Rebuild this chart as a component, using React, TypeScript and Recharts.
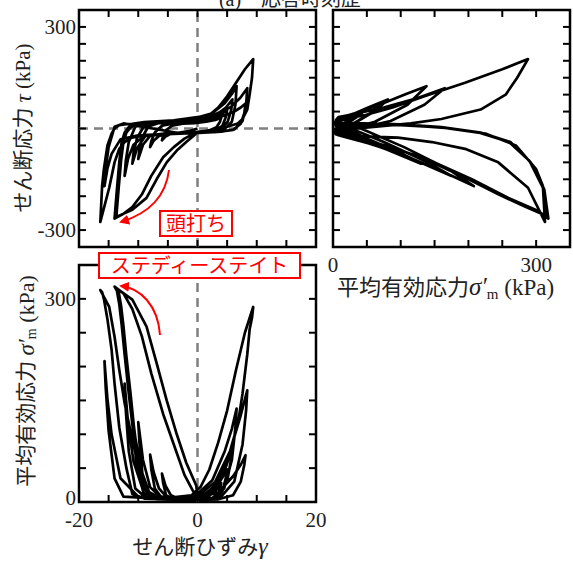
import { LineChart, Line, XAxis, YAxis, ReferenceLine, ReferenceArea } from "recharts";

// [せん断ひずみ γ (%), せん断応力 τ (kPa), 平均有効応力 σ'm (kPa)] — one half cycle per array
type Pt = [number, number, number];

const loop01: Pt[] = [[0, 0, 4], [-1.5, -8, 3], [-3, -12, 4], [-4.5, -16, 10], [-5.4, -24, 24], [-6, -35, 42], [-5.8, -22, 28], [-5.3, -5, 10], [-4.3, 8, 4], [-2.5, 14, 3]];
const loop02: Pt[] = [[-0.5, 16, 3], [1.5, 20, 6], [3, 25, 16], [4, 32, 28], [3.8, 20, 20], [3.2, 4, 8], [2, -6, 4], [0, -10, 3]];
const loop03: Pt[] = [[-2.5, -12, 3], [-5, -15, 5], [-6.5, -22, 20], [-7.4, -36, 44], [-8, -55, 70], [-7.8, -38, 48], [-7.2, -12, 20], [-6, 8, 6], [-4, 15, 3]];
const loop04: Pt[] = [[-1.5, 18, 3], [1, 24, 6], [3, 32, 20], [4.2, 44, 36], [5, 55, 48], [4.8, 35, 36], [4.2, 8, 16], [3, -5, 5], [0.5, -11, 3]];
const loop05: Pt[] = [[-3, -13, 3], [-6, -16, 5], [-8, -22, 22], [-9.2, -48, 62], [-10, -90, 118], [-9.8, -62, 88], [-9.3, -25, 42], [-8.3, 6, 10], [-6.5, 16, 4]];
const loop06: Pt[] = [[-2, 19, 4], [0.5, 26, 7], [3, 38, 24], [4.8, 62, 52], [5.9, 86, 81], [5.7, 55, 65], [5.1, 20, 35], [3.8, -3, 10], [1.5, -11, 3]];
const loop07: Pt[] = [[-2, -12, 3], [-6, -16, 4], [-8.8, -22, 18], [-10.2, -58, 75], [-11, -104, 130], [-10.8, -72, 100], [-10.2, -28, 48], [-9, 8, 10], [-7, 17, 4]];
const loop08: Pt[] = [[-3, 20, 4], [0, 26, 6], [3.5, 32, 14], [6, 48, 38], [7.3, 62, 55], [8.1, 74, 69], [7.9, 45, 55], [7.3, 14, 30], [6, -4, 10], [3.5, -10, 4]];
const loop09: Pt[] = [[0, -13, 3], [-5, -17, 4], [-9, -22, 12], [-10.8, -48, 60], [-11.7, -88, 115], [-12.3, -140, 175], [-12.1, -95, 135], [-11.6, -40, 75], [-10.5, 5, 20], [-8.5, 17, 5]];
const loop10: Pt[] = [[-4, 20, 4], [-0.5, 30, 8], [2.5, 45, 32], [4.6, 75, 75], [5.8, 102, 108], [6.6, 125, 138], [6.4, 70, 110], [5.8, 20, 62], [4.5, -3, 20], [2.5, -10, 6]];
const loop11: Pt[] = [[0, -12, 4], [-5, -16, 4], [-10, -20, 8], [-13, -32, 35], [-14.5, -75, 100], [-15.2, -118, 152], [-15.7, -170, 208], [-15.5, -120, 170], [-15, -55, 105], [-14, 5, 35], [-12.5, 15, 8]];
const loop13: Pt[] = [[-3, -14, 3], [-6, -16, 5], [-8.1, -20, 13], [-9.8, -23, 47], [-11.1, -27, 96], [-12.3, -40, 146], [-13.2, -60, 195], [-14, -100, 244], [-14.9, -175, 288], [-16.4, -276, 313], [-16.1, -170, 310], [-15.8, -120, 300], [-15.2, -50, 270], [-14.5, -15, 225], [-14, 0, 175], [-13.2, 10, 110], [-12, 13, 50], [-11, 14, 12]];
const loop12: Pt[] = [[-9, 19, 5], [-4, 24, 4], [0, 34, 8], [3, 42, 30], [5.5, 62, 75], [7.2, 90, 125], [8.4, 119, 165], [8.2, 70, 135], [7.6, 22, 85], [6.2, -3, 30], [4, -9, 8], [1, -12, 3]];
const loop16: Pt[] = [[-0.5, -14, 12], [-2.2, -30, 40], [-4, -55, 85], [-5.8, -85, 130], [-7.8, -140, 190], [-9.4, -195, 245], [-11, -232, 285], [-12.5, -252, 308], [-14, -266, 318], [-13.6, -180, 312], [-13.2, -100, 292], [-12.8, -40, 262], [-12.3, -12, 218], [-11.6, 4, 160], [-10.8, 12, 100], [-9.8, 15, 45], [-8.5, 16, 12]];
const loop14: Pt[] = [[-5, 18, 6], [-1, 24, 10], [0.5, 30, 22], [2, 40, 48], [3.5, 62, 88], [5, 95, 135], [6.5, 135, 195], [8, 175, 250], [9.4, 205, 288], [9.2, 150, 272], [8.8, 100, 255], [8.4, 56, 218], [7.6, 28, 160], [6.8, 15, 115], [5, 5, 60], [3, -2, 25], [1, -8, 8], [0, -10, 5]];
const loop15: Pt[] = [[-0.2, -15, 24], [-1.9, -40, 58], [-3.5, -65, 100], [-5.2, -100, 150], [-6.9, -150, 205], [-8.6, -205, 259], [-11, -240, 299], [-13.7, -261, 316], [-13.3, -175, 310], [-12.9, -95, 290], [-12.5, -40, 260], [-12, -12, 215], [-11.3, 3, 160], [-10.6, 10, 100], [-9.5, 14, 47], [-8.1, 15, 13]];

const loops = [loop01, loop02, loop03, loop04, loop05, loop06, loop07, loop08, loop09, loop10, loop11, loop13, loop12, loop16, loop14, loop15];
const path = loops.flat().map(([g, t, s]) => ({ g, t, s }));

const strainTicks = [-20, -15, -10, -5, 0, 5, 10, 15, 20];
const tauTicks = [-300, -250, -200, -150, -100, -50, 0, 50, 100, 150, 200, 250, 300];
const sigmaTicks = [0, 50, 100, 150, 200, 250, 300];

const W = 573;
const H = 562;
const AX_W = 40; // y axis band
const AX_H = 30; // x axis band
const FONT = "'Liberation Serif', 'Noto Sans CJK JP', serif";
const TEXT = "#222";

const fmt = (v: number) => (v < 0 ? "-" + -v : String(v));

// x-axis tick: inward marks on bottom and top frame, optional label
function xTick(top: number, bottom: number, labels: number[], labelY: number) {
  return (props: any) => {
    const x = props.payload?.coordinate ?? props.x;
    const v = props.payload?.value;
    return (
      <g>
        <line x1={x} x2={x} y1={bottom} y2={bottom - 7} stroke="#000" strokeWidth={2} />
        <line x1={x} x2={x} y1={top} y2={top + 7} stroke="#000" strokeWidth={2} />
        {labels.includes(v) && (
          <text x={x} y={labelY} textAnchor="middle" fontSize={21} fontFamily={FONT} fill={TEXT}>
            {fmt(v)}
          </text>
        )}
      </g>
    );
  };
}

function yTick(left: number, right: number, labels: number[]) {
  return (props: any) => {
    const y = props.payload?.coordinate ?? props.y;
    const v = props.payload?.value;
    return (
      <g>
        <line x1={left} x2={left + 7} y1={y} y2={y} stroke="#000" strokeWidth={2} />
        <line x1={right - 7} x2={right} y1={y} y2={y} stroke="#000" strokeWidth={2} />
        {labels.includes(v) && (
          <text x={left - 3} y={y + (v === 0 ? 3 : 7)} textAnchor="end" fontSize={21} fontFamily={FONT} fill={TEXT}>
            {fmt(v)}
          </text>
        )}
      </g>
    );
  };
}

type PanelProps = {
  box: { L: number; R: number; T: number; B: number };
  xKey: string;
  yKey: string;
  xDomain: [number, number];
  yDomain: [number, number];
  xTicks: number[];
  yTicks: number[];
  xLabels: number[];
  yLabels: number[];
  xLabelY: number;
  zeroX?: boolean;
  zeroY?: boolean;
};

function Panel({ box, xKey, yKey, xDomain, yDomain, xTicks, yTicks, xLabels, yLabels, xLabelY, zeroX, zeroY }: PanelProps) {
  const { L, R, T, B } = box;
  return (
    <div style={{ position: "absolute", left: 0, top: 0 }}>
      <LineChart
        width={W}
        height={H}
        data={path}
        margin={{ top: T, left: L - AX_W, right: W - R, bottom: H - B - AX_H }}
      >
        <XAxis
          type="number"
          dataKey={xKey}
          domain={xDomain}
          ticks={xTicks}
          interval={0}
          height={AX_H}
          axisLine={false}
          tickLine={false}
          allowDataOverflow
          tick={xTick(T, B, xLabels, xLabelY)}
        />
        <YAxis
          type="number"
          domain={yDomain}
          ticks={yTicks}
          interval={0}
          width={AX_W}
          axisLine={false}
          tickLine={false}
          allowDataOverflow
          tick={yTick(L, R, yLabels)}
        />
        {zeroX && <ReferenceLine x={0} stroke="#808080" strokeWidth={2.5} strokeDasharray="9 6" />}
        {zeroY && <ReferenceLine y={0} stroke="#808080" strokeWidth={2.5} strokeDasharray="9 6" />}
        <Line
          type="linear"
          dataKey={yKey}
          stroke="#000"
          strokeWidth={2.7}
          strokeLinejoin="round"
          dot={false}
          isAnimationActive={false}
        />
        <ReferenceArea x1={xDomain[0]} x2={xDomain[1]} y1={yDomain[0]} y2={yDomain[1]} fill="none" stroke="#000" strokeWidth={2.5} />
      </LineChart>
    </div>
  );
}

export default function App() {
  const red = "#f00";
  return (
    <div style={{ position: "absolute", left: 0, top: 0, width: W, height: H, background: "#fff" }}>
      <Panel
        box={{ L: 79, R: 316, T: 10, B: 247 }}
        xKey="g"
        yKey="t"
        xDomain={[-20, 20]}
        yDomain={[-350, 350]}
        xTicks={strainTicks}
        yTicks={tauTicks}
        xLabels={[]}
        yLabels={[-300, 300]}
        xLabelY={0}
        zeroX
        zeroY
      />
      <Panel
        box={{ L: 333, R: 570, T: 10, B: 247 }}
        xKey="s"
        yKey="t"
        xDomain={[0, 350]}
        yDomain={[-350, 350]}
        xTicks={sigmaTicks}
        yTicks={tauTicks}
        xLabels={[0, 300]}
        yLabels={[]}
        xLabelY={272}
      />
      <Panel
        box={{ L: 79, R: 316, T: 265, B: 502 }}
        xKey="g"
        yKey="s"
        xDomain={[-20, 20]}
        yDomain={[0, 350]}
        xTicks={strainTicks}
        yTicks={sigmaTicks}
        xLabels={[-20, 0, 20]}
        yLabels={[0, 300]}
        xLabelY={527}
        zeroX
      />
      <svg width={W} height={H} style={{ position: "absolute", left: 0, top: 0, pointerEvents: "none" }} fontFamily={FONT}>
        <defs>
          <marker id="head" viewBox="0 0 10 10" refX="8" refY="5" markerWidth="5" markerHeight="5" orient="auto">
            <path d="M0,0 L10,5 L0,10 z" fill={red} />
          </marker>
        </defs>
        <text x={290} y={6} textAnchor="middle" fontSize={20} fill={TEXT}>(a)　応答時刻歴</text>

        <text transform="translate(23,128) rotate(-90)" textAnchor="middle" dominantBaseline="central" fontSize={21} fill={TEXT}>
          せん断応力 <tspan fontStyle="italic" fontSize={23}>τ</tspan> (kPa)
        </text>
        <text transform="translate(26,381) rotate(-90)" textAnchor="middle" dominantBaseline="central" fontSize={21} fill={TEXT}>
          平均有効応力 <tspan fontStyle="italic" fontSize={23}>σ′</tspan>
          <tspan fontSize={14} dy={5}>m</tspan>
          <tspan dy={-5} fontSize={22}> (kPa)</tspan>
        </text>
        <text x={337} y={295} fontSize={22} fill={TEXT}>
          平均有効応力<tspan fontStyle="italic" fontSize={25}>σ′</tspan>
          <tspan fontSize={15} dy={4}>m</tspan>
          <tspan dy={-4} fontSize={23}> (kPa)</tspan>
        </text>
        <text x={200} y={554} textAnchor="middle" fontSize={21} fill={TEXT}>
          せん断ひずみ<tspan fontStyle="italic" fontSize={24}>γ</tspan>
        </text>

        <path d="M169,170 C166,195 150,213 121,222" fill="none" stroke={red} strokeWidth={2} markerEnd="url(#head)" />
        <rect x={160} y={211} width={72} height={25} fill="#fff" stroke={red} strokeWidth={2} />
        <text x={196} y={231} textAnchor="middle" fontSize={20} fill={red}>頭打ち</text>

        <path d="M160,335 C158,305 140,288 121,286" fill="none" stroke={red} strokeWidth={2} markerEnd="url(#head)" />
        <rect x={99} y={253} width={201} height={25} fill="#fff" stroke={red} strokeWidth={2} />
        <text x={199.5} y={273} textAnchor="middle" fontSize={20} fill={red}>ステディーステイト</text>
      </svg>
    </div>
  );
}
